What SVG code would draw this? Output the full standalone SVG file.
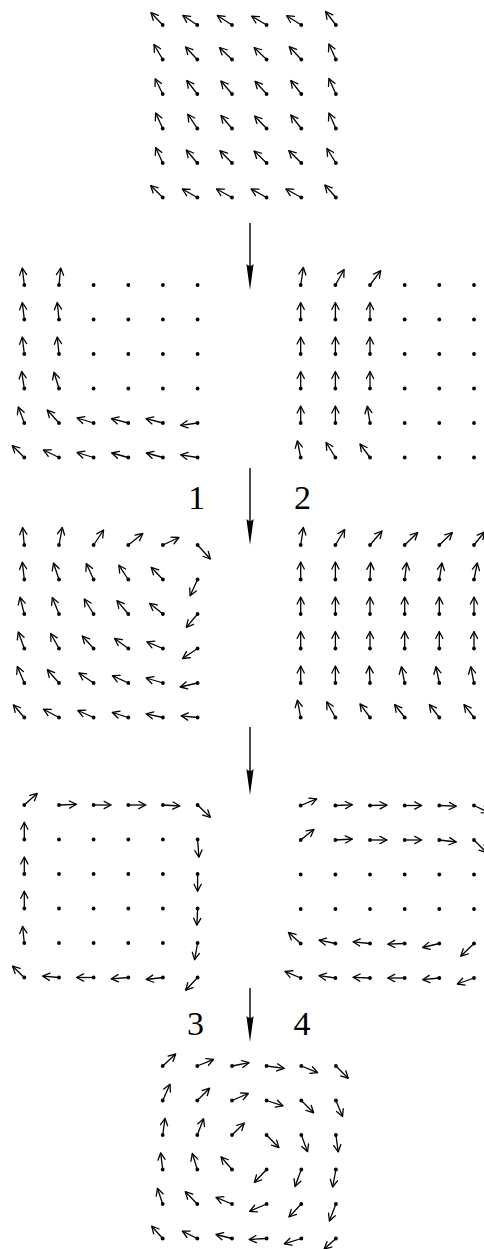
<svg xmlns="http://www.w3.org/2000/svg" width="484" height="1249" viewBox="0 0 484 1249">
<defs>
<marker id="ah" markerUnits="userSpaceOnUse" viewBox="-8 -5 10 10" markerWidth="10" markerHeight="10" refX="0" refY="0" orient="auto" overflow="visible">
<path d="M-7,-3.6 L0,0 L-7,3.6" fill="none" stroke="#000" stroke-width="1.3" stroke-linecap="round" stroke-linejoin="round"/>
</marker>
<marker id="dot" markerUnits="userSpaceOnUse" viewBox="-3 -3 6 6" markerWidth="6" markerHeight="6" refX="0" refY="0" overflow="visible">
<circle cx="0" cy="0" r="1.9" fill="#000"/>
</marker>
</defs>
<style>
.v{stroke:#000;stroke-width:1.3;fill:none;marker-start:url(#dot);marker-end:url(#ah)}
.p{fill:#000}
.big{stroke:#000;stroke-width:1.4;fill:none}
.hd{fill:#000;stroke:none}
.lab{font-family:"Liberation Serif","Times New Roman",serif;font-size:34px;fill:#000;text-anchor:middle}
</style>
<rect width="484" height="1249" fill="#fff"/>

<g id="grid0">
<line class="v" x1="162.7" y1="25" x2="151.0" y2="12.7"/>
<line class="v" x1="197.3" y1="25" x2="182.8" y2="15.5"/>
<line class="v" x1="232.0" y1="25" x2="217.3" y2="15.5"/>
<line class="v" x1="266.6" y1="25" x2="251.6" y2="16.2"/>
<line class="v" x1="301.3" y1="25" x2="286.6" y2="15.7"/>
<line class="v" x1="335.9" y1="25" x2="325.6" y2="11.5"/>
<line class="v" x1="162.7" y1="59.5" x2="154.0" y2="44.5"/>
<line class="v" x1="197.3" y1="59.5" x2="185.6" y2="47.0"/>
<line class="v" x1="232.0" y1="59.5" x2="219.5" y2="47.5"/>
<line class="v" x1="266.6" y1="59.5" x2="254.1" y2="47.5"/>
<line class="v" x1="301.3" y1="59.5" x2="289.3" y2="46.7"/>
<line class="v" x1="335.9" y1="59.5" x2="328.9" y2="44.0"/>
<line class="v" x1="162.7" y1="94" x2="155.2" y2="78.7"/>
<line class="v" x1="197.3" y1="94" x2="186.8" y2="80.5"/>
<line class="v" x1="232.0" y1="94" x2="221.0" y2="81.0"/>
<line class="v" x1="266.6" y1="94" x2="255.1" y2="81.3"/>
<line class="v" x1="301.3" y1="94" x2="290.8" y2="80.5"/>
<line class="v" x1="335.9" y1="94" x2="328.9" y2="78.5"/>
<line class="v" x1="162.7" y1="128.5" x2="155.7" y2="113.0"/>
<line class="v" x1="197.3" y1="128.5" x2="187.8" y2="114.2"/>
<line class="v" x1="232.0" y1="128.5" x2="221.0" y2="115.5"/>
<line class="v" x1="266.6" y1="128.5" x2="254.6" y2="116.0"/>
<line class="v" x1="301.3" y1="128.5" x2="290.8" y2="115.0"/>
<line class="v" x1="335.9" y1="128.5" x2="328.9" y2="113.0"/>
<line class="v" x1="162.7" y1="163" x2="155.7" y2="147.5"/>
<line class="v" x1="197.3" y1="163" x2="186.3" y2="150.0"/>
<line class="v" x1="232.0" y1="163" x2="220.0" y2="150.7"/>
<line class="v" x1="266.6" y1="163" x2="254.1" y2="151.0"/>
<line class="v" x1="301.3" y1="163" x2="288.8" y2="150.5"/>
<line class="v" x1="335.9" y1="163" x2="326.9" y2="148.5"/>
<line class="v" x1="162.7" y1="197.5" x2="150.7" y2="185.5"/>
<line class="v" x1="197.3" y1="197.5" x2="182.3" y2="189.0"/>
<line class="v" x1="232.0" y1="197.5" x2="216.5" y2="189.0"/>
<line class="v" x1="266.6" y1="197.5" x2="251.1" y2="189.0"/>
<line class="v" x1="301.3" y1="197.5" x2="285.8" y2="189.0"/>
<line class="v" x1="335.9" y1="197.5" x2="324.9" y2="185.0"/>
</g>

<g id="grid1">
<line class="v" x1="24.3" y1="285" x2="22.3" y2="268"/>
<line class="v" x1="59.0" y1="285" x2="60.7" y2="268"/>
<circle class="p" cx="93.6" cy="285" r="1.9"/><circle class="p" cx="128.3" cy="285" r="1.9"/><circle class="p" cx="162.9" cy="285" r="1.9"/><circle class="p" cx="197.6" cy="285" r="1.9"/>
<line class="v" x1="24.3" y1="319.5" x2="22.3" y2="302.5"/>
<line class="v" x1="59.0" y1="319.5" x2="57.3" y2="302.5"/>
<circle class="p" cx="93.6" cy="319.5" r="1.9"/><circle class="p" cx="128.3" cy="319.5" r="1.9"/><circle class="p" cx="162.9" cy="319.5" r="1.9"/><circle class="p" cx="197.6" cy="319.5" r="1.9"/>
<line class="v" x1="24.3" y1="354" x2="22.3" y2="337"/>
<line class="v" x1="59.0" y1="354" x2="57.3" y2="337"/>
<circle class="p" cx="93.6" cy="354" r="1.9"/><circle class="p" cx="128.3" cy="354" r="1.9"/><circle class="p" cx="162.9" cy="354" r="1.9"/><circle class="p" cx="197.6" cy="354" r="1.9"/>
<line class="v" x1="24.3" y1="388.5" x2="21.6" y2="371.5"/>
<line class="v" x1="59.0" y1="388.5" x2="54.0" y2="372.2"/>
<circle class="p" cx="93.6" cy="388.5" r="1.9"/><circle class="p" cx="128.3" cy="388.5" r="1.9"/><circle class="p" cx="162.9" cy="388.5" r="1.9"/><circle class="p" cx="197.6" cy="388.5" r="1.9"/>
<line class="v" x1="24.3" y1="423" x2="18.3" y2="407"/>
<line class="v" x1="59.0" y1="423" x2="47.3" y2="410"/>
<line class="v" x1="93.6" y1="423" x2="77.1" y2="418"/>
<line class="v" x1="128.3" y1="423" x2="111.5" y2="418.7"/>
<line class="v" x1="162.9" y1="423" x2="146.1" y2="418.7"/>
<line class="v" x1="197.6" y1="423" x2="180.6" y2="425.3"/>
<line class="v" x1="24.3" y1="457.5" x2="12.3" y2="445.5"/>
<line class="v" x1="59.0" y1="457.5" x2="43.5" y2="450"/>
<line class="v" x1="93.6" y1="457.5" x2="77.1" y2="452.5"/>
<line class="v" x1="128.3" y1="457.5" x2="111.7" y2="453"/>
<line class="v" x1="162.9" y1="457.5" x2="146.3" y2="453"/>
<line class="v" x1="197.6" y1="457.5" x2="180.6" y2="454.8"/>
</g>

<g id="grid2">
<line class="v" x1="300.7" y1="285" x2="303.4" y2="267.5"/>
<line class="v" x1="335.4" y1="285" x2="344.1" y2="269.5"/>
<line class="v" x1="370.0" y1="285" x2="380.7" y2="270.7"/>
<circle class="p" cx="404.7" cy="285" r="1.9"/><circle class="p" cx="439.3" cy="285" r="1.9"/><circle class="p" cx="474.0" cy="285" r="1.9"/>
<line class="v" x1="300.7" y1="319.5" x2="300.7" y2="302.5"/>
<line class="v" x1="335.4" y1="319.5" x2="335.4" y2="302.5"/>
<line class="v" x1="370.0" y1="319.5" x2="370.0" y2="302.5"/>
<circle class="p" cx="404.7" cy="319.5" r="1.9"/><circle class="p" cx="439.3" cy="319.5" r="1.9"/><circle class="p" cx="474.0" cy="319.5" r="1.9"/>
<line class="v" x1="300.7" y1="354" x2="300.7" y2="337"/>
<line class="v" x1="335.4" y1="354" x2="335.4" y2="337"/>
<line class="v" x1="370.0" y1="354" x2="370.0" y2="337"/>
<circle class="p" cx="404.7" cy="354" r="1.9"/><circle class="p" cx="439.3" cy="354" r="1.9"/><circle class="p" cx="474.0" cy="354" r="1.9"/>
<line class="v" x1="300.7" y1="388.5" x2="300.7" y2="371.5"/>
<line class="v" x1="335.4" y1="388.5" x2="335.4" y2="371.5"/>
<line class="v" x1="370.0" y1="388.5" x2="370.0" y2="371.5"/>
<circle class="p" cx="404.7" cy="388.5" r="1.9"/><circle class="p" cx="439.3" cy="388.5" r="1.9"/><circle class="p" cx="474.0" cy="388.5" r="1.9"/>
<line class="v" x1="300.7" y1="423" x2="300.7" y2="406"/>
<line class="v" x1="335.4" y1="423" x2="335.4" y2="406"/>
<line class="v" x1="370.0" y1="423" x2="367.3" y2="406.2"/>
<circle class="p" cx="404.7" cy="423" r="1.9"/><circle class="p" cx="439.3" cy="423" r="1.9"/><circle class="p" cx="474.0" cy="423" r="1.9"/>
<line class="v" x1="300.7" y1="457.5" x2="297.4" y2="440.8"/>
<line class="v" x1="335.4" y1="457.5" x2="326.1" y2="442.5"/>
<line class="v" x1="370.0" y1="457.5" x2="360.0" y2="444"/>
<circle class="p" cx="404.7" cy="457.5" r="1.9"/><circle class="p" cx="439.3" cy="457.5" r="1.9"/><circle class="p" cx="474.0" cy="457.5" r="1.9"/>
</g>

<g id="grid3">
<line class="v" x1="24.3" y1="545" x2="22.6" y2="527.5"/>
<line class="v" x1="59.0" y1="545" x2="62.3" y2="527.5"/>
<line class="v" x1="93.6" y1="545" x2="103.6" y2="530"/>
<line class="v" x1="128.3" y1="545" x2="142.8" y2="533.5"/>
<line class="v" x1="162.9" y1="545" x2="178.9" y2="537.5"/>
<line class="v" x1="197.6" y1="545" x2="210.3" y2="559"/>
<line class="v" x1="24.3" y1="579.5" x2="22.3" y2="562.2"/>
<line class="v" x1="59.0" y1="579.5" x2="53.5" y2="563"/>
<line class="v" x1="93.6" y1="579.5" x2="86.3" y2="563.5"/>
<line class="v" x1="128.3" y1="579.5" x2="118.8" y2="565.2"/>
<line class="v" x1="162.9" y1="579.5" x2="151.2" y2="567.3"/>
<line class="v" x1="197.6" y1="579.5" x2="190.1" y2="595.8"/>
<line class="v" x1="24.3" y1="614" x2="20.0" y2="597.2"/>
<line class="v" x1="59.0" y1="614" x2="52.3" y2="597.5"/>
<line class="v" x1="93.6" y1="614" x2="84.3" y2="599"/>
<line class="v" x1="128.3" y1="614" x2="117.0" y2="600.7"/>
<line class="v" x1="162.9" y1="614" x2="149.6" y2="603.3"/>
<line class="v" x1="197.6" y1="614" x2="186.3" y2="627.3"/>
<line class="v" x1="24.3" y1="648.5" x2="18.3" y2="632"/>
<line class="v" x1="59.0" y1="648.5" x2="50.7" y2="633.5"/>
<line class="v" x1="93.6" y1="648.5" x2="82.3" y2="636"/>
<line class="v" x1="128.3" y1="648.5" x2="114.6" y2="638.5"/>
<line class="v" x1="162.9" y1="648.5" x2="146.9" y2="641.8"/>
<line class="v" x1="197.6" y1="648.5" x2="182.6" y2="658.5"/>
<line class="v" x1="24.3" y1="683" x2="17.3" y2="666.5"/>
<line class="v" x1="59.0" y1="683" x2="47.3" y2="669.7"/>
<line class="v" x1="93.6" y1="683" x2="78.9" y2="673"/>
<line class="v" x1="128.3" y1="683" x2="112.3" y2="675.7"/>
<line class="v" x1="162.9" y1="683" x2="146.2" y2="678"/>
<line class="v" x1="197.6" y1="683" x2="180.1" y2="687"/>
<line class="v" x1="24.3" y1="717.5" x2="13.3" y2="704.8"/>
<line class="v" x1="59.0" y1="717.5" x2="43.5" y2="709.2"/>
<line class="v" x1="93.6" y1="717.5" x2="77.9" y2="710.5"/>
<line class="v" x1="128.3" y1="717.5" x2="112.3" y2="712.5"/>
<line class="v" x1="162.9" y1="717.5" x2="146.2" y2="713.8"/>
<line class="v" x1="197.6" y1="717.5" x2="181.1" y2="715.8"/>
</g>

<g id="grid4">
<line class="v" x1="300.7" y1="545" x2="303.4" y2="527.5"/>
<line class="v" x1="335.4" y1="545" x2="344.7" y2="529.5"/>
<line class="v" x1="370.0" y1="545" x2="382.0" y2="531"/>
<line class="v" x1="404.7" y1="545" x2="417.7" y2="532.5"/>
<line class="v" x1="439.3" y1="545" x2="452.3" y2="532.5"/>
<line class="v" x1="474.0" y1="545" x2="484.5" y2="532"/>
<line class="v" x1="300.7" y1="579.5" x2="300.7" y2="562"/>
<line class="v" x1="335.4" y1="579.5" x2="335.4" y2="562"/>
<line class="v" x1="370.0" y1="579.5" x2="370.7" y2="562.5"/>
<line class="v" x1="404.7" y1="579.5" x2="406.7" y2="562.7"/>
<line class="v" x1="439.3" y1="579.5" x2="442.0" y2="563"/>
<line class="v" x1="474.0" y1="579.5" x2="477.3" y2="563"/>
<line class="v" x1="300.7" y1="614" x2="300.7" y2="597"/>
<line class="v" x1="335.4" y1="614" x2="335.4" y2="597"/>
<line class="v" x1="370.0" y1="614" x2="370.0" y2="597"/>
<line class="v" x1="404.7" y1="614" x2="404.7" y2="597"/>
<line class="v" x1="439.3" y1="614" x2="439.3" y2="597"/>
<line class="v" x1="474.0" y1="614" x2="474.0" y2="597"/>
<line class="v" x1="300.7" y1="648.5" x2="300.7" y2="631.5"/>
<line class="v" x1="335.4" y1="648.5" x2="335.4" y2="631.5"/>
<line class="v" x1="370.0" y1="648.5" x2="370.0" y2="631.5"/>
<line class="v" x1="404.7" y1="648.5" x2="404.7" y2="631.5"/>
<line class="v" x1="439.3" y1="648.5" x2="439.3" y2="631.5"/>
<line class="v" x1="474.0" y1="648.5" x2="474.0" y2="631.5"/>
<line class="v" x1="300.7" y1="683" x2="300.7" y2="666"/>
<line class="v" x1="335.4" y1="683" x2="335.4" y2="666"/>
<line class="v" x1="370.0" y1="683" x2="369.3" y2="666"/>
<line class="v" x1="404.7" y1="683" x2="401.4" y2="666.7"/>
<line class="v" x1="439.3" y1="683" x2="436.0" y2="666.7"/>
<line class="v" x1="474.0" y1="683" x2="470.7" y2="666.7"/>
<line class="v" x1="300.7" y1="717.5" x2="297.4" y2="700.2"/>
<line class="v" x1="335.4" y1="717.5" x2="326.7" y2="701.8"/>
<line class="v" x1="370.0" y1="717.5" x2="360.0" y2="703.8"/>
<line class="v" x1="404.7" y1="717.5" x2="394.7" y2="704.5"/>
<line class="v" x1="439.3" y1="717.5" x2="429.3" y2="704.5"/>
<line class="v" x1="474.0" y1="717.5" x2="464.0" y2="704.5"/>
</g>

<g id="grid5">
<line class="v" x1="24.3" y1="805" x2="37.3" y2="793.3"/>
<line class="v" x1="59.0" y1="805" x2="76.5" y2="804.3"/>
<line class="v" x1="93.6" y1="805" x2="111.1" y2="805"/>
<line class="v" x1="128.3" y1="805" x2="145.8" y2="805"/>
<line class="v" x1="162.9" y1="805" x2="179.9" y2="806"/>
<line class="v" x1="197.6" y1="805" x2="210.3" y2="817.3"/>
<line class="v" x1="24.3" y1="839.5" x2="24.3" y2="822.2"/>
<circle class="p" cx="59.0" cy="839.5" r="1.9"/><circle class="p" cx="93.6" cy="839.5" r="1.9"/><circle class="p" cx="128.3" cy="839.5" r="1.9"/><circle class="p" cx="162.9" cy="839.5" r="1.9"/>
<line class="v" x1="197.6" y1="839.5" x2="198.9" y2="857.2"/>
<line class="v" x1="24.3" y1="874" x2="24.3" y2="857"/>
<circle class="p" cx="59.0" cy="874" r="1.9"/><circle class="p" cx="93.6" cy="874" r="1.9"/><circle class="p" cx="128.3" cy="874" r="1.9"/><circle class="p" cx="162.9" cy="874" r="1.9"/>
<line class="v" x1="197.6" y1="874" x2="197.6" y2="891.3"/>
<line class="v" x1="24.3" y1="908.5" x2="24.3" y2="891.2"/>
<circle class="p" cx="59.0" cy="908.5" r="1.9"/><circle class="p" cx="93.6" cy="908.5" r="1.9"/><circle class="p" cx="128.3" cy="908.5" r="1.9"/><circle class="p" cx="162.9" cy="908.5" r="1.9"/>
<line class="v" x1="197.6" y1="908.5" x2="196.9" y2="925.2"/>
<line class="v" x1="24.3" y1="943" x2="22.6" y2="926.3"/>
<circle class="p" cx="59.0" cy="943" r="1.9"/><circle class="p" cx="93.6" cy="943" r="1.9"/><circle class="p" cx="128.3" cy="943" r="1.9"/><circle class="p" cx="162.9" cy="943" r="1.9"/>
<line class="v" x1="197.6" y1="943" x2="194.6" y2="959.7"/>
<line class="v" x1="24.3" y1="977.5" x2="12.6" y2="966.2"/>
<line class="v" x1="59.0" y1="977.5" x2="42.7" y2="976.2"/>
<line class="v" x1="93.6" y1="977.5" x2="76.6" y2="977.5"/>
<line class="v" x1="128.3" y1="977.5" x2="111.3" y2="978.8"/>
<line class="v" x1="162.9" y1="977.5" x2="146.2" y2="979.5"/>
<line class="v" x1="197.6" y1="977.5" x2="185.6" y2="990.2"/>
</g>

<g id="grid6">
<line class="v" x1="300.7" y1="805.5" x2="316.7" y2="798.8"/>
<line class="v" x1="335.4" y1="805.5" x2="352.4" y2="804.8"/>
<line class="v" x1="370.0" y1="805.5" x2="387.0" y2="805.2"/>
<line class="v" x1="404.7" y1="805.5" x2="421.7" y2="805.5"/>
<line class="v" x1="439.3" y1="805.5" x2="456.3" y2="806.2"/>
<line class="v" x1="474.0" y1="805.5" x2="489.0" y2="812.5"/>
<line class="v" x1="300.7" y1="840" x2="314.0" y2="829.3"/>
<line class="v" x1="335.4" y1="840" x2="352.4" y2="839"/>
<line class="v" x1="370.0" y1="840" x2="387.0" y2="840"/>
<line class="v" x1="404.7" y1="840" x2="421.7" y2="840"/>
<line class="v" x1="439.3" y1="840" x2="456.3" y2="842"/>
<line class="v" x1="474.0" y1="840" x2="486.5" y2="852.5"/>
<circle class="p" cx="300.7" cy="874.5" r="1.9"/><circle class="p" cx="335.4" cy="874.5" r="1.9"/><circle class="p" cx="370.0" cy="874.5" r="1.9"/><circle class="p" cx="404.7" cy="874.5" r="1.9"/><circle class="p" cx="439.3" cy="874.5" r="1.9"/><circle class="p" cx="474.0" cy="874.5" r="1.9"/>
<circle class="p" cx="300.7" cy="909" r="1.9"/><circle class="p" cx="335.4" cy="909" r="1.9"/><circle class="p" cx="370.0" cy="909" r="1.9"/><circle class="p" cx="404.7" cy="909" r="1.9"/><circle class="p" cx="439.3" cy="909" r="1.9"/><circle class="p" cx="474.0" cy="909" r="1.9"/>
<line class="v" x1="300.7" y1="943.5" x2="288.4" y2="932.5"/>
<line class="v" x1="335.4" y1="943.5" x2="319.1" y2="940.2"/>
<line class="v" x1="370.0" y1="943.5" x2="353.0" y2="941.8"/>
<line class="v" x1="404.7" y1="943.5" x2="387.7" y2="944.2"/>
<line class="v" x1="439.3" y1="943.5" x2="422.6" y2="947.5"/>
<line class="v" x1="474.0" y1="943.5" x2="460.7" y2="956.2"/>
<line class="v" x1="300.7" y1="978" x2="285.0" y2="971.3"/>
<line class="v" x1="335.4" y1="978" x2="319.1" y2="975.7"/>
<line class="v" x1="370.0" y1="978" x2="353.0" y2="977.3"/>
<line class="v" x1="404.7" y1="978" x2="387.7" y2="978"/>
<line class="v" x1="439.3" y1="978" x2="422.6" y2="979.7"/>
<line class="v" x1="474.0" y1="978" x2="457.3" y2="984"/>
</g>

<g id="grid7">
<line class="v" x1="162.7" y1="1066" x2="175.7" y2="1054"/>
<line class="v" x1="197.3" y1="1066" x2="213.6" y2="1059.3"/>
<line class="v" x1="232.0" y1="1066" x2="249.0" y2="1062.7"/>
<line class="v" x1="266.6" y1="1066" x2="284.1" y2="1068.3"/>
<line class="v" x1="301.3" y1="1066" x2="317.6" y2="1072.7"/>
<line class="v" x1="335.9" y1="1066" x2="348.2" y2="1078.3"/>
<line class="v" x1="162.7" y1="1100.5" x2="170.0" y2="1084.2"/>
<line class="v" x1="197.3" y1="1100.5" x2="209.6" y2="1088.2"/>
<line class="v" x1="232.0" y1="1100.5" x2="248.3" y2="1093.5"/>
<line class="v" x1="266.6" y1="1100.5" x2="282.9" y2="1105.8"/>
<line class="v" x1="301.3" y1="1100.5" x2="313.6" y2="1112.8"/>
<line class="v" x1="335.9" y1="1100.5" x2="342.6" y2="1116.5"/>
<line class="v" x1="162.7" y1="1135" x2="165.0" y2="1118.3"/>
<line class="v" x1="197.3" y1="1135" x2="203.6" y2="1118.7"/>
<line class="v" x1="232.0" y1="1135" x2="244.3" y2="1123"/>
<line class="v" x1="266.6" y1="1135" x2="278.9" y2="1147.7"/>
<line class="v" x1="301.3" y1="1135" x2="307.6" y2="1151.7"/>
<line class="v" x1="335.9" y1="1135" x2="338.2" y2="1152"/>
<line class="v" x1="162.7" y1="1169.5" x2="160.7" y2="1152.8"/>
<line class="v" x1="197.3" y1="1169.5" x2="192.3" y2="1153.5"/>
<line class="v" x1="232.0" y1="1169.5" x2="221.0" y2="1156.8"/>
<line class="v" x1="266.6" y1="1169.5" x2="254.3" y2="1182.5"/>
<line class="v" x1="301.3" y1="1169.5" x2="295.0" y2="1186.5"/>
<line class="v" x1="335.9" y1="1169.5" x2="332.6" y2="1187"/>
<line class="v" x1="162.7" y1="1204" x2="157.4" y2="1188.3"/>
<line class="v" x1="197.3" y1="1204" x2="185.3" y2="1191.7"/>
<line class="v" x1="232.0" y1="1204" x2="216.0" y2="1197.3"/>
<line class="v" x1="266.6" y1="1204" x2="249.6" y2="1211.3"/>
<line class="v" x1="301.3" y1="1204" x2="289.0" y2="1217"/>
<line class="v" x1="335.9" y1="1204" x2="329.4" y2="1221"/>
<line class="v" x1="162.7" y1="1238.5" x2="151.7" y2="1226.2"/>
<line class="v" x1="197.3" y1="1238.5" x2="182.3" y2="1231.2"/>
<line class="v" x1="232.0" y1="1238.5" x2="216.0" y2="1234.5"/>
<line class="v" x1="266.6" y1="1238.5" x2="249.1" y2="1239.5"/>
<line class="v" x1="301.3" y1="1238.5" x2="284.3" y2="1243.8"/>
<line class="v" x1="335.9" y1="1238.5" x2="324.2" y2="1249"/>
</g>

<g id="labels">
<text class="lab" x="196.7" y="509">1</text>
<text class="lab" x="302.5" y="509">2</text>
<text class="lab" x="195.5" y="1035">3</text>
<text class="lab" x="302" y="1035">4</text>
</g>

<g id="connectors">
<line class="big" x1="250" y1="223" x2="250" y2="272"/>
<path class="hd" d="M250,290 L246.4,264 Q250,268 253.6,264 Z"/>
<line class="big" x1="250" y1="468" x2="250" y2="527"/>
<path class="hd" d="M250,545 L246.4,519 Q250,523 253.6,519 Z"/>
<line class="big" x1="250" y1="727" x2="250" y2="777"/>
<path class="hd" d="M250,795 L246.4,769 Q250,773 253.6,769 Z"/>
<line class="big" x1="250" y1="988" x2="250" y2="1024"/>
<path class="hd" d="M250,1042 L246.4,1016 Q250,1020 253.6,1016 Z"/>
</g>
</svg>
